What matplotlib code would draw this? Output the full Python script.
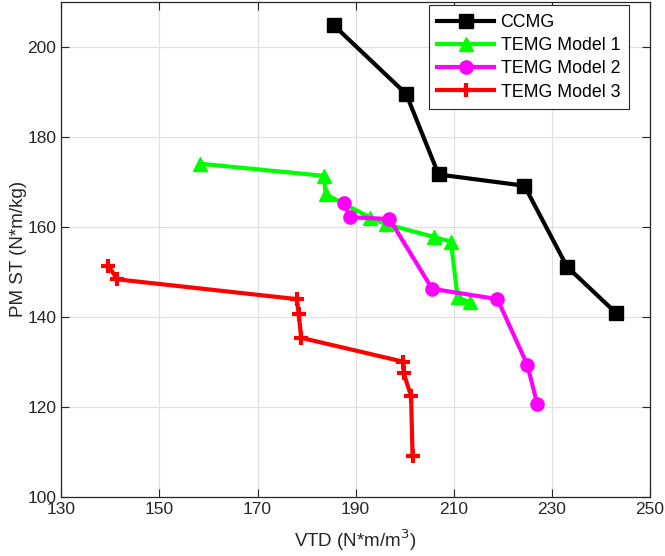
import matplotlib
matplotlib.use("Agg")
import matplotlib.pyplot as plt

# Torque density comparison: VTD (x) vs PM specific torque (y)
ccmg_vtd = [185.5, 200.3, 206.9, 224.4, 233.1, 243.1]
ccmg_st = [204.8, 189.5, 171.6, 169.1, 151.1, 140.8]

temg1_vtd = [158.2, 183.5, 183.9, 193.0, 196.1, 206.0, 209.4, 210.8, 213.3]
temg1_st = [174.0, 171.3, 167.2, 162.0, 160.6, 157.7, 156.7, 144.3, 143.2]

temg2_vtd = [187.6, 188.9, 196.9, 205.6, 218.9, 225.0, 227.0]
temg2_st = [165.2, 162.1, 161.7, 146.2, 143.9, 129.3, 120.7]

temg3_vtd = [139.6, 141.4, 178.0, 178.4, 178.9, 199.7, 199.8, 201.3, 201.6]
temg3_st = [151.3, 148.3, 143.9, 140.6, 135.3, 130.0, 127.4, 122.4, 109.0]

labels = ["CCMG", "TEMG Model 1", "TEMG Model 2", "TEMG Model 3"]
x_ticks = [130, 150, 170, 190, 210, 230, 250]
y_ticks = [100, 120, 140, 160, 180, 200]

plt.rcParams["font.family"] = ["Liberation Sans", "DejaVu Sans"]

fig = plt.figure(figsize=(6.65, 5.56), dpi=100)
ax = fig.add_axes([0.0922, 0.1067, 0.8852, 0.8903])

lw = 3.0
ax.plot(ccmg_vtd, ccmg_st, color="black", lw=lw, marker="s", markersize=10,
        label=labels[0], zorder=3)
ax.plot(temg1_vtd, temg1_st, color="#00ff00", lw=lw, marker="^", markersize=10,
        label=labels[1], zorder=3)
ax.plot(temg2_vtd, temg2_st, color="#ff00ff", lw=lw, marker="o", markersize=9.5,
        label=labels[2], zorder=3)
ax.plot(temg3_vtd, temg3_st, color="#ff0000", lw=lw, marker="+", markersize=10,
        markeredgewidth=3.0, label=labels[3], zorder=3)

ax.set_xlim(130, 250)
ax.set_ylim(100, 210)
ax.set_xticks(x_ticks)
ax.set_yticks(y_ticks)
ax.tick_params(direction="in", top=True, right=True, labelsize=12.5,
               length=6, width=0.8, colors="#262626")
ax.grid(True, color="#e0e0e0", linewidth=0.9, zorder=0)
ax.set_axisbelow(True)
for spine in ax.spines.values():
    spine.set_color("#262626")
    spine.set_linewidth(0.9)

ax.set_xlabel("VTD (N*m/m$^3$)", fontsize=13.5, color="#262626", labelpad=8)
ax.set_ylabel("PM ST (N*m/kg)", fontsize=13.5, color="#262626", labelpad=0.5)

leg = ax.legend(loc="upper right", bbox_to_anchor=(0.9643, 0.9933),
                borderaxespad=0, fontsize=12.8, handlelength=3.2,
                borderpad=0.5, labelspacing=0.35, handletextpad=0.35,
                fancybox=False, framealpha=1)
leg.get_frame().set_edgecolor("#262626")
leg.get_frame().set_linewidth(0.8)

fig.savefig("out.png", dpi=100)
